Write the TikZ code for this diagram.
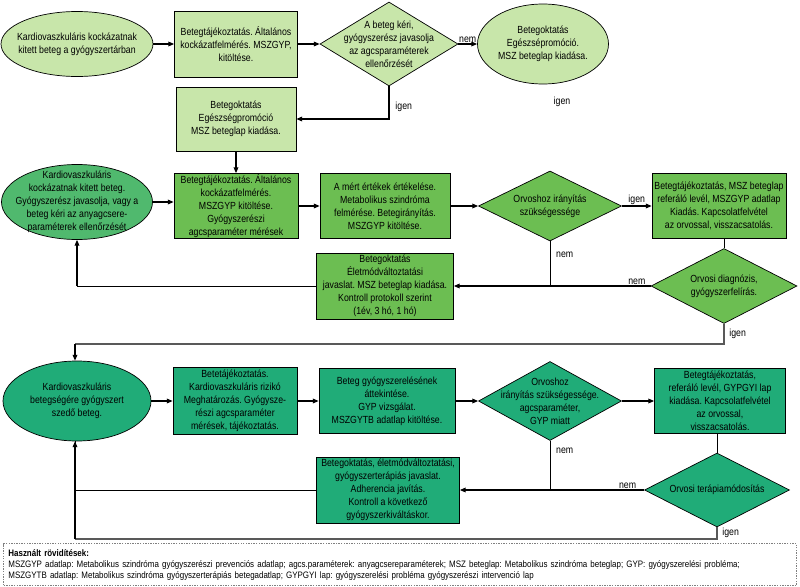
\documentclass[tikz,border=0pt]{standalone}
\usepackage{fontspec}
\setmainfont{Liberation Sans}[FakeStretch=0.85]
\usepackage{tikz}
\usetikzlibrary{arrows.meta, shapes.geometric}
\frenchspacing
\definecolor{lgreen}{RGB}{200,230,170}
\definecolor{mgreen}{RGB}{108,190,82}
\definecolor{egreen}{RGB}{80,185,110}
\definecolor{tgreen}{RGB}{32,172,120}
\newcommand{\fmain}{\fontsize{8.8pt}{11pt}\selectfont}
\newcommand{\fabbr}{\fontsize{8pt}{9.4pt}\selectfont}
\tikzset{
    shp/.style 2 args={draw=black,line width=0.6pt,inner sep=0pt,
        minimum width=#1*0.03cm,minimum height=#2*0.03cm},
    tt/.style={font=\fmain,align=center,inner sep=0pt,text=black},
    bx/.style={rectangle,font=\fmain,align=center},
    el/.style={ellipse},
    dia/.style={diamond},
    lbl/.style={font=\fmain,inner sep=1pt,text=black},
    arr/.style={draw,line width=1pt,-{Triangle[length=5pt,width=4pt]}},
    plain/.style={draw,line width=0.6pt},
    loopline/.style={draw,gray!70!black,line width=1.2pt},
    flow/.style={every edge/.style={arr}},
    abbr/.style={draw=gray,densely dotted,line width=1.2pt,inner xsep=4pt,
        inner ysep=2pt,align=left,font=\fabbr,text width=23.5cm,
        minimum height=42*0.03cm,anchor=north west}
}
\begin{document}
\begin{tikzpicture}[x=0.03cm,y=-0.03cm]
\useasboundingbox (0,0) rectangle (800,587);
% row 1
\node[shp={152}{65}, el, fill=lgreen,
    label={[tt]center:{Kardiovaszkuláris kockázatnak\\kitett beteg a gyógyszertárban}}] (kv1) at (77,44) {};
\node[shp={123}{66}, bx, fill=lgreen] (tajek1) at (236,44)
    {Betegtájékoztatás. Általános\\kockázatfelmérés. MSZGYP,\\kitöltése.};
\node[shp={138}{84}, dia, fill=lgreen,
    label={[tt]center:{A beteg kéri,\\gyógyszerész javasolja\\az agcsparaméterek\\ellenőrzését}}] (dont1) at (389,44) {};
\node[shp={131}{80}, el, fill=lgreen,
    label={[tt]center:{Betegoktatás\\Egészsépromóció.\\MSZ beteglap kiadása.}}] (okt1) at (543,44) {};
\node[shp={120}{64}, bx, fill=lgreen] (okt2) at (236,119)
    {Betegoktatás\\Egészségpromóció\\MSZ beteglap kiadása.};
\node[lbl] (igenfree) at (562,102) {igen};
% row 2
\node[shp={151}{75}, el, fill=egreen,
    label={[tt]center:{Kardiovaszkuláris\\kockázatnak kitett beteg.\\Gyógyszerész javasolja, vagy a\\beteg kéri az anyagcsere-\\paraméterek ellenőrzését}}] (kv2) at (77,202) {};
\node[shp={124}{65}, bx, fill=mgreen] (tajek2) at (236,206)
    {Betegtájékoztatás. Általános\\kockázatfelmérés.\\MSZGYP kitöltése.\\Gyógyszerészi\\agcsparaméter mérések};
\node[shp={130}{65}, bx, fill=mgreen] (ert) at (385,206)
    {A mért értékek értékelése.\\Metabolikus szindróma\\felmérése. Betegirányítás.\\MSZGYP kitöltése.};
\node[shp={143}{70}, dia, fill=mgreen,
    label={[tt]center:{Orvoshoz irányítás\\szükségessége}}] (iranyit) at (550,206) {};
\node[shp={134}{65}, bx, fill=mgreen] (refer1) at (719,206)
    {Betegtájékoztatás, MSZ beteglap\\referáló levél, MSZGYP adatlap\\Kiadás. Kapcsolatfelvétel\\az orvossal, visszacsatolás.};
\node[shp={146}{75}, dia, fill=mgreen,
    label={[tt]center:{Orvosi diagnózis,\\gyógyszerfelírás.}}] (diag) at (724,286) {};
\node[shp={137}{66}, bx, fill=mgreen] (okt3) at (385,286)
    {Betegoktatás\\Életmódváltoztatási\\javaslat. MSZ beteglap kiadása.\\Kontroll protokoll szerint\\(1év, 3 hó, 1 hó)};
% row 3
\node[shp={148}{80}, el, fill=tgreen,
    label={[tt]center:{Kardiovaszkuláris\\betegségére gyógyszert\\szedő beteg.}}] (kv3) at (77,401) {};
\node[shp={124}{67}, bx, fill=tgreen] (tajek3) at (235,401)
    {Betetájékoztatás.\\Kardiovaszkuláris rizikó\\Meghatározás. Gyógysze-\\részi agcsparaméter\\mérések, tájékoztatás.};
\node[shp={136}{65}, bx, fill=tgreen] (attek) at (387,401)
    {Beteg gyógyszerelésének\\áttekintése.\\GYP vizsgálat.\\MSZGYTB adatlap kitöltése.};
\node[shp={143}{79}, dia, fill=tgreen,
    label={[tt]center:{Orvoshoz\\irányítás szükségessége.\\agcsparaméter,\\GYP miatt}}] (iranyit2) at (550,401) {};
\node[shp={131}{65}, bx, fill=tgreen] (refer2) at (720,401)
    {Betegtájékoztatás,\\referáló levél, GYPGYI lap\\kiadása. Kapcsolatfelvétel\\az orvossal,\\visszacsatolás.};
\node[shp={145}{74}, dia, fill=tgreen,
    label={[tt]center:{Orvosi terápiamódosítás}}] (terap) at (717,490) {};
\node[shp={143}{66}, bx, fill=tgreen] (okt4) at (388,490)
    {Betegoktatás, életmódváltoztatási,\\gyógyszerterápiás javaslat.\\Adherencia javítás.\\Kontroll a következő\\gyógyszerkiváltáskor.};
\coordinate (loopa) at (75,344);
\coordinate (loopb) at (75,539);
% legend
\node[abbr] (abbr) at (3,543)
    {\textbf{Használt rövidítések:}\\
    MSZGYP adatlap: Metabolikus szindróma gyógyszerészi prevenciós adatlap; agcs.paraméterek: anyagcsereparaméterek; MSZ beteglap: Metabolikus szindróma beteglap; GYP: gyógyszerelési probléma;\\
    MSZGYTB adatlap: Metabolikus szindróma gyógyszerterápiás betegadatlap; GYPGYI lap: gyógyszerelési probléma gyógyszerészi intervenció lap};
\path[flow]
    (kv1) edge (tajek1)
    (tajek1) edge (dont1)
    (dont1) edge node[lbl,above] {nem} (okt1)
    (okt2) edge (tajek2)
    (tajek2) edge (ert)
    (ert) edge (iranyit)
    (iranyit) edge node[lbl,above] {igen} (refer1)
    (diag) edge node[lbl,above,pos=0.07] {nem} (okt3)
    (kv3) edge (tajek3)
    (tajek3) edge (attek)
    (attek) edge (iranyit2)
    (iranyit2) edge (refer2)
    (terap) edge node[lbl,above,pos=0.09] {nem} (okt4)
;
\draw[arr] (dont1.south) |- node[lbl,right,pos=0.32,xshift=4pt] {igen} (okt2.east);
\draw[arr] (kv2.east) -- (kv2.east -| tajek2.west);
\draw[plain] (iranyit.south) -- node[lbl,right,pos=0.3,xshift=4pt] {nem} (iranyit.south |- okt3.east);
\draw[plain] (diag.north |- refer1.south) -- (diag.north);
\draw[plain] (okt3.west) -- (kv2.south |- okt3.west);
\draw[arr] (kv2.south |- okt3.west) -- (kv2.south);
\draw[loopline] (diag.south) |- node[lbl,right,pos=0.25,xshift=3pt] {igen} (loopa);
\draw[arr] (loopa) -- (loopa |- kv3.north);
\draw[plain] (iranyit2.south) -- node[lbl,right,pos=0.2,xshift=4pt] {nem} (iranyit2.south |- okt4.east);
\draw[plain] (terap.north |- refer2.south) -- (terap.north);
\draw[plain] (okt4.west) -| (loopb |- kv3.south);
\draw[loopline] (terap.south) |- node[lbl,right,pos=0.25,xshift=3pt] {igen} (loopb);
\draw[arr] (loopb) -- (loopb |- kv3.south);
\end{tikzpicture}
\end{document}
